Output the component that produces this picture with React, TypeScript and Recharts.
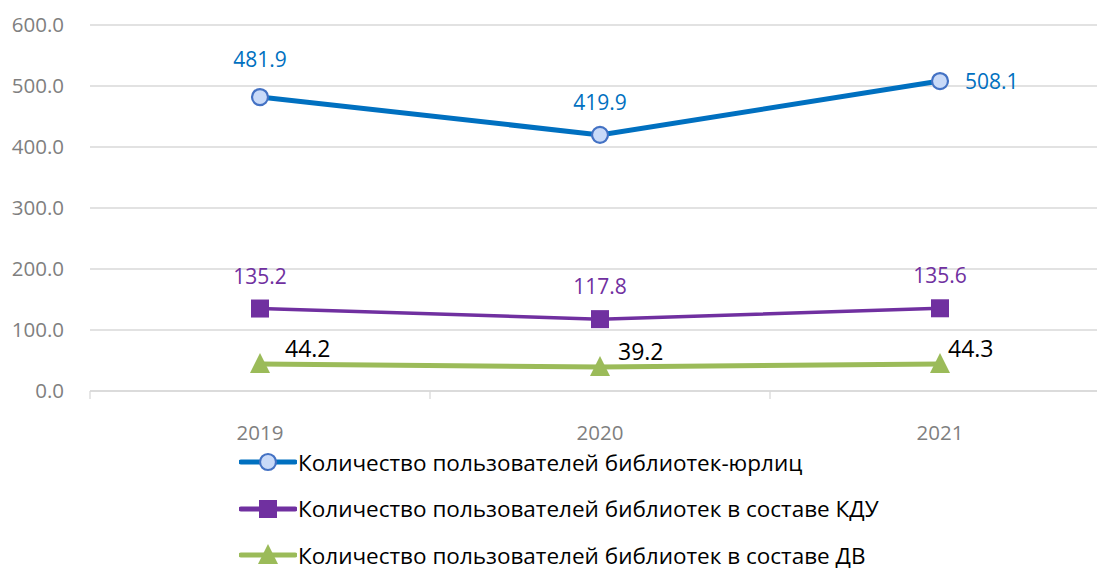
import React from 'react';
import { LineChart, Line, XAxis, YAxis, CartesianGrid, Legend, LabelList } from 'recharts';

const years = ['2019', '2020', '2021'];
const legalEntityUsers = [481.9, 419.9, 508.1];
const kduUsers = [135.2, 117.8, 135.6];
const dvUsers = [44.2, 39.2, 44.3];
const yTicks = [0, 100, 200, 300, 400, 500, 600];

const seriesNames = [
    'Количество пользователей библиотек-юрлиц',
    'Количество пользователей библиотек в составе КДУ',
    'Количество пользователей библиотек в составе ДВ',
];

const data = years.map((year, i) => ({
    year,
    legal: legalEntityUsers[i],
    kdu: kduUsers[i],
    dv: dvUsers[i],
}));

const FONT = '"Open Sans", "Noto Sans", sans-serif';
const BLUE = '#0070C0';
const PURPLE = '#7030A0';
const GREEN = '#9BBB59';
const GRAY_TEXT = '#7F7F7F';

const CircleDot: React.FC<any> = ({ cx, cy }) => {
    if (cx == null || cy == null) return null;
    return <circle cx={cx} cy={cy} r={8} fill="#C9DAF8" stroke="#4472C4" strokeWidth={2.2} />;
};

const SquareDot: React.FC<any> = ({ cx, cy }) => {
    if (cx == null || cy == null) return null;
    return <rect x={cx - 9} y={cy - 9} width={18} height={18} fill={PURPLE} />;
};

const TriangleDot: React.FC<any> = ({ cx, cy }) => {
    if (cx == null || cy == null) return null;
    return <polygon points={`${cx},${cy - 11} ${cx + 10},${cy + 9} ${cx - 10},${cy + 9}`} fill={GREEN} />;
};

// label placement per point, as Excel had them nudged around
const blueOffsets = [{ dx: 0, dy: -38, anchor: 'middle' }, { dx: 0, dy: -33, anchor: 'middle' }, { dx: 25, dy: 0, anchor: 'start' }];
const greenOffsets = [{ dx: 25, dy: -16 }, { dx: 18, dy: -16 }, { dx: 8, dy: -16 }];

const BlueLabel: React.FC<any> = ({ x, y, value, index }) => {
    const o = blueOffsets[index] || blueOffsets[0];
    return (
        <text x={x + o.dx} y={y + o.dy} textAnchor={o.anchor} dominantBaseline="central" fill={BLUE} fontSize={21} fontFamily={FONT}>
            {Number(value).toFixed(1)}
        </text>
    );
};

const PurpleLabel: React.FC<any> = ({ x, y, value }) => (
    <text x={x} y={y - 33} textAnchor="middle" dominantBaseline="central" fill={PURPLE} fontSize={21} fontFamily={FONT}>
        {Number(value).toFixed(1)}
    </text>
);

const GreenLabel: React.FC<any> = ({ x, y, value, index }) => {
    const o = greenOffsets[index] || greenOffsets[0];
    return (
        <text x={x + o.dx} y={y + o.dy} textAnchor="start" dominantBaseline="central" fill="#000000" fontSize={23} fontFamily={FONT}>
            {Number(value).toFixed(1)}
        </text>
    );
};

// category label plus tick marks on the band boundaries
const YearTick: React.FC<any> = ({ x, y, payload, index, width, visibleTicksCount }) => {
    const band = width / visibleTicksCount;
    const left = x - band / 2;
    const isLast = index === visibleTicksCount - 1;
    return (
        <g>
            <line x1={left} y1={y} x2={left} y2={y + 8} stroke="#D9D9D9" strokeWidth={1.3} />
            {isLast && <line x1={left + band} y1={y} x2={left + band} y2={y + 8} stroke="#D9D9D9" strokeWidth={1.3} />}
            <text x={x} y={y + 41} textAnchor="middle" dominantBaseline="central" fill={GRAY_TEXT} fontSize={20.5} fontFamily={FONT}>
                {payload.value}
            </text>
        </g>
    );
};

const legendIcons = [CircleDot, SquareDot, TriangleDot];
const legendColors = [BLUE, PURPLE, GREEN];

const ChartLegend: React.FC<any> = () => (
    <div style={{ fontFamily: FONT }}>
        {seriesNames.map((name, i) => {
            const Icon = legendIcons[i];
            return (
                <div key={name} style={{ display: 'flex', alignItems: 'center', height: 46.5 }}>
                    <svg width={58} height={24} style={{ flex: 'none' }}>
                        <line x1={2} y1={12} x2={56} y2={12} stroke={legendColors[i]} strokeWidth={5} strokeLinecap="round" />
                        <Icon cx={29} cy={12} />
                    </svg>
                    <span style={{ fontSize: 22.5, color: '#000', marginLeft: 1, whiteSpace: 'nowrap' }}>{name}</span>
                </div>
            );
        })}
    </div>
);

const App: React.FC = () => {
    return (
        <div style={{ position: 'absolute', left: 0, top: 0, width: 1097, height: 570, overflow: 'hidden', background: '#fff' }}>
            <LineChart
                width={1130}
                height={570}
                data={data}
                margin={{ top: 25, right: 20, left: 0, bottom: 129 }}
            >
                <CartesianGrid vertical={false} stroke="#D9D9D9" strokeWidth={1.3} />
                <XAxis
                    dataKey="year"
                    scale="band"
                    axisLine={{ stroke: '#D9D9D9', strokeWidth: 1.3 }}
                    tickLine={false}
                    tickSize={0}
                    tickMargin={0}
                    height={50}
                    interval={0}
                    tick={<YearTick />}
                />
                <YAxis
                    domain={[0, 600]}
                    ticks={yTicks}
                    width={90}
                    axisLine={false}
                    tickLine={false}
                    tickSize={0}
                    tickMargin={26}
                    tickFormatter={(v: number) => v.toFixed(1)}
                    tick={{ fill: GRAY_TEXT, fontSize: 20.5, fontFamily: FONT }}
                />
                <Legend
                    layout="vertical"
                    align="center"
                    verticalAlign="middle"
                    content={<ChartLegend />}
                    wrapperStyle={{ left: 239, top: 439, width: 800 }}
                />
                <Line
                    dataKey="legal"
                    name={seriesNames[0]}
                    stroke={BLUE}
                    strokeWidth={5}
                    dot={<CircleDot />}
                    activeDot={false}
                    isAnimationActive={false}
                >
                    <LabelList dataKey="legal" content={<BlueLabel />} />
                </Line>
                <Line
                    dataKey="kdu"
                    name={seriesNames[1]}
                    stroke={PURPLE}
                    strokeWidth={3.5}
                    dot={<SquareDot />}
                    activeDot={false}
                    isAnimationActive={false}
                >
                    <LabelList dataKey="kdu" content={<PurpleLabel />} />
                </Line>
                <Line
                    dataKey="dv"
                    name={seriesNames[2]}
                    stroke={GREEN}
                    strokeWidth={5}
                    dot={<TriangleDot />}
                    activeDot={false}
                    isAnimationActive={false}
                >
                    <LabelList dataKey="dv" content={<GreenLabel />} />
                </Line>
            </LineChart>
        </div>
    );
};

export default App;
